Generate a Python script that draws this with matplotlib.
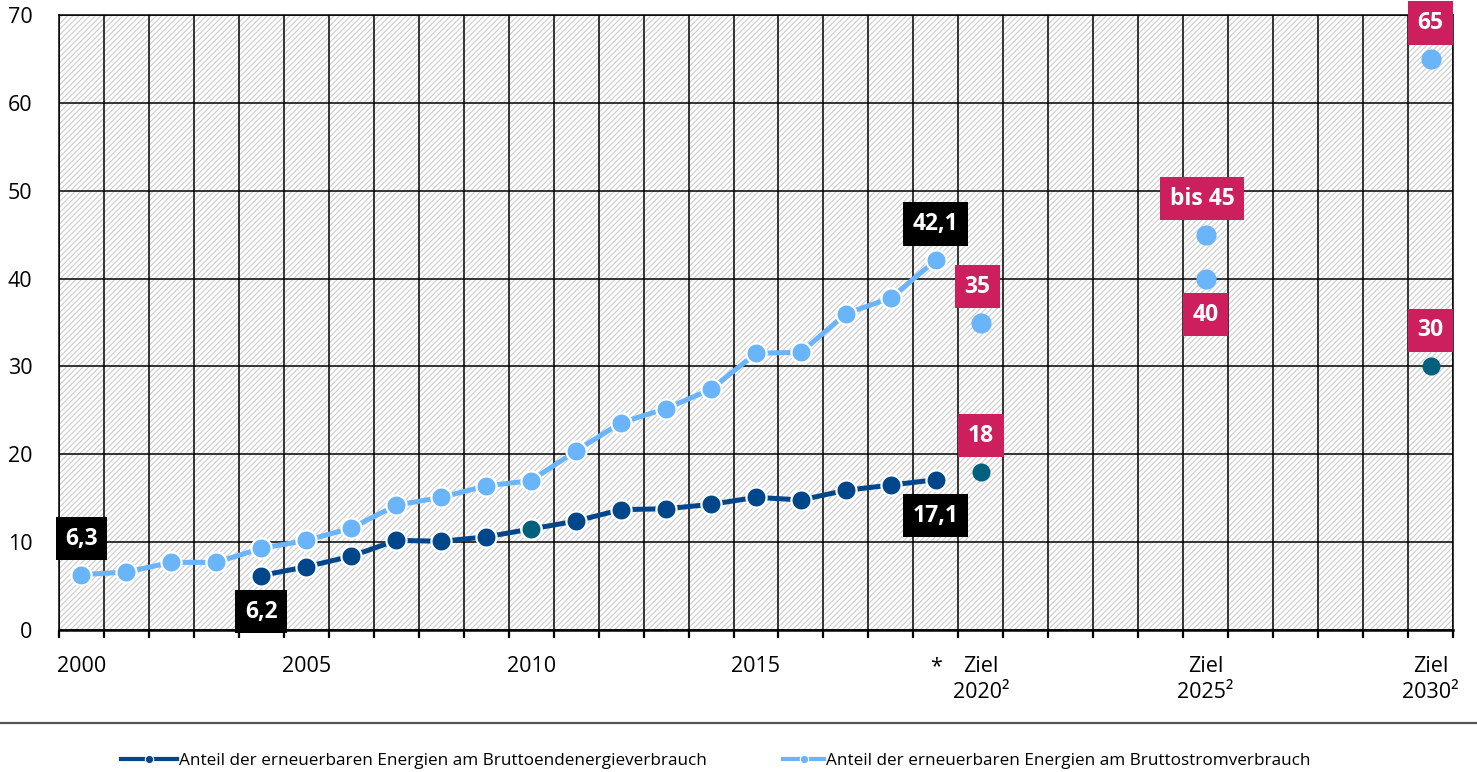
import matplotlib
matplotlib.use("Agg")
import matplotlib.pyplot as plt
from matplotlib.lines import Line2D
from matplotlib.patches import Rectangle
import numpy as np

plt.rcParams['font.family'] = ['Open Sans', 'Noto Sans', 'DejaVu Sans']
plt.rcParams['hatch.color'] = '#d0d0d0'
plt.rcParams['hatch.linewidth'] = 0.9

# ---- data ----
years_strom = list(range(2000, 2020))
strom = [6.3, 6.6, 7.7, 7.7, 9.3, 10.2, 11.6, 14.2, 15.1, 16.4, 17.0, 20.4,
         23.6, 25.2, 27.4, 31.5, 31.6, 36.0, 37.8, 42.1]
years_end = list(range(2004, 2020))
endenergie = [6.2, 7.2, 8.4, 10.2, 10.1, 10.6, 11.5, 12.4, 13.7, 13.8, 14.3,
              15.1, 14.8, 15.9, 16.5, 17.1]
highlight_year_end = 2010

target_years_strom = [2020, 2025, 2025, 2030]
target_strom = [35, 40, 45, 65]
target_years_end = [2020, 2030]
target_end = [18, 30]

tick_years = [2000, 2005, 2010, 2015, 2019, 2020, 2025, 2030]
tick_labels = ['2000', '2005', '2010', '2015', '*', 'Ziel\n2020²', 'Ziel\n2025²', 'Ziel\n2030²']
y_ticks = [0, 10, 20, 30, 40, 50, 60, 70]

legend_labels = ['Anteil der erneuerbaren Energien am Bruttoendenergieverbrauch',
                 'Anteil der erneuerbaren Energien am Bruttostromverbrauch']

# value labels: (x, y, text, style, direction)
value_labels = [
    (2000, 6.3, '6,3', 'black', 1),
    (2004, 6.2, '6,2', 'black', -1),
    (2019, 42.1, '42,1', 'black', 1),
    (2019, 17.1, '17,1', 'black', -1),
    (2020, 35, '35', 'pink', 1),
    (2020, 18, '18', 'pink', 1),
    (2025, 45, 'bis 45', 'pink', 1),
    (2025, 40, '40', 'pink', -1),
    (2030, 65, '65', 'pink', 1),
    (2030, 30, '30', 'pink', 1),
]

# ---- colours ----
c_dark = '#00468b'
c_light = '#6ab4fa'
c_teal = '#00617f'
c_pink = '#cd1f5d'

fig = plt.figure(figsize=(14.77, 7.72), dpi=100)
ax = fig.add_axes([59/1477, 1-630/772, (1453-59)/1477, (630-15)/772])
ax.set_xlim(1999.5, 2030.5)
ax.set_ylim(0, 70)

# hatched background
ax.add_patch(Rectangle((0, 0), 1, 1, transform=ax.transAxes, facecolor='white',
                       edgecolor='#d0d0d0', hatch='//////', linewidth=0, zorder=0))

# grid
ax.set_xticks(np.arange(1999.5, 2031, 1.0), minor=True)
ax.set_xticks(tick_years)
ax.set_xticklabels(tick_labels, fontsize=15.5)
for lab in ax.get_xticklabels():
    lab.set_linespacing(1.3)
ax.set_yticks(y_ticks)
ax.set_yticklabels([str(v) for v in y_ticks], fontsize=15.5)
ax.grid(True, which='minor', axis='x', color='black', linewidth=1.1, zorder=1)
ax.grid(True, which='major', axis='y', color='black', linewidth=1.1, zorder=1)
ax.set_axisbelow(True)
ax.tick_params(axis='x', which='major', length=0, pad=19)
ax.tick_params(axis='x', which='minor', length=6, width=1.6, direction='out', color='black')
ax.tick_params(axis='y', which='both', length=0, pad=19)
for s in ['top', 'right']:
    ax.spines[s].set_color('black')
    ax.spines[s].set_linewidth(1.1)
ax.spines['left'].set_linewidth(1.1)
ax.spines['bottom'].set_linewidth(1.8)

# series
ax.plot(years_strom, strom, color=c_light, linewidth=3.6, marker='o', markersize=14.5,
        markeredgecolor='white', markeredgewidth=1.6, zorder=4)
ax.plot(years_end, endenergie, color=c_dark, linewidth=3.6, marker='o', markersize=14.5,
        markeredgecolor='white', markeredgewidth=1.6, zorder=4)
hi = years_end.index(highlight_year_end)
ax.plot([years_end[hi]], [endenergie[hi]], linestyle='none', marker='o', markersize=14.5,
        color=c_teal, markeredgecolor='white', markeredgewidth=1.6, zorder=5)

ax.plot(target_years_strom, target_strom, linestyle='none', marker='o', markersize=14.5,
        color=c_light, markeredgewidth=0, zorder=4)
ax.plot(target_years_end, target_end, linestyle='none', marker='o', markersize=13,
        color=c_teal, markeredgewidth=0, zorder=4)

# value labels
for x, y, txt, style, d in value_labels:
    fc = 'black' if style == 'black' else c_pink
    dx = -3.5 if (style == 'pink' and x in (2020, 2025) and d == 1 and y in (35, 45)) else 0
    t = ax.annotate(txt, (x, y), xytext=(dx, 36 * d), textcoords='offset pixels',
                    ha='center', va='center', fontsize=16.5, fontweight='bold', color='white',
                    bbox=dict(boxstyle='square,pad=0.42', fc=fc, ec='none'),
                    zorder=6, annotation_clip=False)
    t.set_clip_on(False)

# separator line
fig.add_artist(Line2D([0, 1], [1-723/772, 1-723/772], transform=fig.transFigure,
                      color='#555555', linewidth=1.6))

# legends
h1 = Line2D([], [], color=c_dark, linewidth=3, marker='o', markersize=6,
            markeredgecolor='white', markeredgewidth=0.8)
h2 = Line2D([], [], color=c_light, linewidth=3, marker='o', markersize=6,
            markeredgecolor='white', markeredgewidth=0.8)
leg1 = fig.legend([h1], [legend_labels[0]], loc='center left',
                  bbox_to_anchor=(121/1477, 1-761/772), frameon=False, fontsize=12.3,
                  handlelength=3.3, handletextpad=0.12, borderpad=0, borderaxespad=0)
leg2 = fig.legend([h2], [legend_labels[1]], loc='center left',
                  bbox_to_anchor=(783/1477, 1-761/772), frameon=False, fontsize=12.3,
                  handlelength=2.4, handletextpad=0.12, borderpad=0, borderaxespad=0)

fig.savefig('out.png', dpi=100)
